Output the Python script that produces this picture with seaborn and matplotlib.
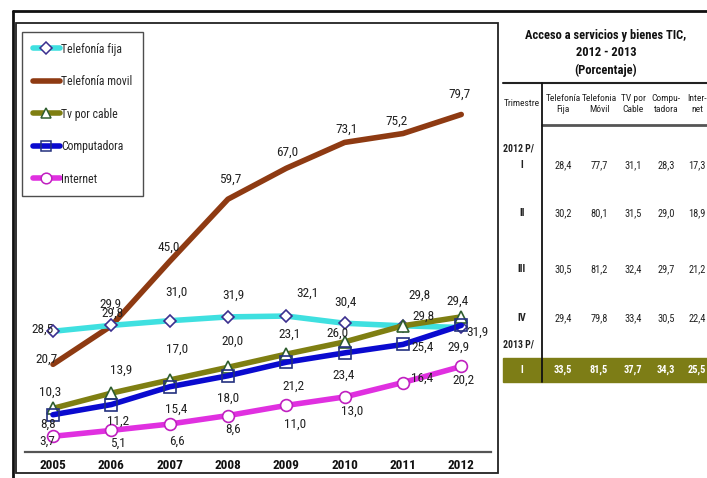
import numpy as np
import pandas as pd
import matplotlib
matplotlib.use("Agg")
import matplotlib.pyplot as plt
import seaborn as sns
from matplotlib import font_manager
from matplotlib.patches import Rectangle
from matplotlib.lines import Line2D

# ---------------- data ----------------
years = ["2005", "2006", "2007", "2008", "2009", "2010", "2011", "2012"]
fija = [28.5, 29.9, 31.0, 31.9, 32.1, 30.4, 29.8, 29.4]
movil = [20.7, 29.8, 45.0, 59.7, 67.0, 73.1, 75.2, 79.7]
tv_cable = [10.3, 13.9, 17.0, 20.0, 23.1, 26.0, 29.8, 31.9]
computadora = [8.8, 11.2, 15.4, 18.0, 21.2, 23.4, 25.4, 29.9]
internet = [3.7, 5.1, 6.6, 8.6, 11.0, 13.0, 16.4, 20.2]
series_names = ["Telefonía fija", "Telefonía movil", "Tv por cable", "Computadora", "Internet"]

table_title = ["Acceso a servicios y bienes TIC,", "2012 - 2013", "(Porcentaje)"]
table_corner = "Trimestre"
table_headers = ["Telefonía\nFija", "Telefonia\nMóvil", "TV por\nCable", "Compu-\ntadora", "Inter-\nnet"]
year_groups = ["2012 P/", "2013 P/"]
trimestres = ["I", "II", "III", "IV", "I"]
table_values = [
    [28.4, 77.7, 31.1, 28.3, 17.3],
    [30.2, 80.1, 31.5, 29.0, 18.9],
    [30.5, 81.2, 32.4, 29.7, 21.2],
    [29.4, 79.8, 33.4, 30.5, 22.4],
    [33.5, 81.5, 37.7, 34.3, 25.5],
]

# ---------------- style ----------------
W, H = 707, 478
sns.set_theme(style="white")

# pick a narrow font if one is installed
fonts = font_manager.fontManager.ttflist
names = {f.name for f in fonts}
stretch = "normal"
if "Liberation Sans Narrow" in names:
    family = "Liberation Sans Narrow"
elif "Roboto Condensed" in names:
    family = "Roboto Condensed"
elif any(f.name == "DejaVu Sans" and str(f.stretch) in ("condensed", "semi-condensed", "75", "87")
         for f in fonts):
    family = "DejaVu Sans"
    stretch = "condensed"
else:
    family = "Liberation Sans"
narrow = family != "Liberation Sans"
plt.rcParams["font.family"] = [family, "DejaVu Sans"]
plt.rcParams["font.stretch"] = stretch
k = 1.0 if narrow else 0.85  # font size factor

def fx(x):
    return x / W

def fy(y):
    return 1 - y / H

fig = plt.figure(figsize=(W / 100, H / 100), dpi=100)
fig.patch.set_facecolor("white")

ax = fig.add_axes([fx(25), fy(452), (491 - 25) / W, (452 - 23) / H])
ax.patch.set_alpha(0)

xpos = np.arange(len(years))
styles = [
    dict(values=movil, color="#8E3A12", marker=None, mfc="none", mec="none", ms=0,
         offs=[(-6, 5), (1, 13), (-1, 14), (2, 20), (1, 16), (2, 13), (-6, 12), (-2, 20)]),
    dict(values=fija, color="#3FE0E0", marker="D", mfc="white", mec="#3B2F8F", ms=6.5,
         offs=[(-10, 2), (-1, 21), (7, 28), (5, 22), (21, 23), (1, 21), (17, 31), (-4, 26)]),
    dict(values=tv_cable, color="#7F7F12", marker="^", mfc="white", mec="#2F5E2F", ms=8.5,
         offs=[(-3, 16), (10, 23), (7, 31), (5, 26), (3, 20), (-7, 9), (21, 10), (16, -15)]),
    dict(values=computadora, color="#0A0ACF", marker="s", mfc="none", mec="#23307F", ms=8,
         offs=[(-5, -10), (7, -17), (7, -22), (0, -22), (7, -24), (-1, -22), (20, -3), (-3, -22)]),
    dict(values=internet, color="#E030E0", marker="o", mfc="white", mec="#C020C0", ms=8.5,
         offs=[(-6, -5), (7, -13), (7, -17), (5, -14), (9, -19), (8, -14), (19, 4), (2, -14)]),
]
name_order = ["Telefonía movil", "Telefonía fija", "Tv por cable", "Computadora", "Internet"]

for name, st in zip(name_order, styles):
    df = pd.DataFrame({"x": xpos, "y": st["values"]})
    kw = dict(color=st["color"], linewidth=4.0, ax=ax, legend=False)
    if st["marker"]:
        kw.update(marker=st["marker"], markersize=st["ms"], markerfacecolor=st["mfc"],
                  markeredgecolor=st["mec"], markeredgewidth=1.2)
    sns.lineplot(data=df, x="x", y="y", **kw)
    for xi, v, (dx, dy) in zip(xpos, st["values"], st["offs"]):
        ax.annotate(f"{v:.1f}".replace(".", ","), (xi, v), xytext=(dx, dy),
                    textcoords="offset pixels", ha="center", va="center",
                    fontsize=9.5 * k, color="#222222", zorder=10)

ax.set_xlim(-0.48, 7.51)
ax.set_ylim(0, 101.3)
ax.set_xticks(xpos)
ax.set_xticklabels(years, fontsize=9.5 * k, fontweight="bold", color="#111111")
ax.set_yticks([])
ax.set_xlabel("")
ax.set_ylabel("")
ax.tick_params(axis="x", length=0, pad=5)
for s in ["top", "left", "right"]:
    ax.spines[s].set_visible(False)
ax.spines["bottom"].set_color("#555555")
ax.spines["bottom"].set_linewidth(1.6)

# legend
legend_styles = {
    "Telefonía fija": styles[1], "Telefonía movil": styles[0], "Tv por cable": styles[2],
    "Computadora": styles[3], "Internet": styles[4],
}
handles = []
for name in series_names:
    st = legend_styles[name]
    handles.append(Line2D([], [], color=st["color"], lw=4.0, marker=st["marker"],
                          markersize=st["ms"] * 0.9, markerfacecolor=st["mfc"],
                          markeredgecolor=st["mec"], markeredgewidth=1.1))
leg = ax.legend(handles, series_names, loc="upper left", bbox_to_anchor=(fx(22), fy(32)),
                bbox_transform=fig.transFigure, frameon=True, fancybox=False,
                edgecolor="#222222", fontsize=8.5 * k, handlelength=2.3, handletextpad=0.1,
                labelspacing=1.65, borderpad=0.9, borderaxespad=0)
leg.get_frame().set_linewidth(1.0)

# frames
fig.add_artist(Rectangle((fx(16), fy(473)), (498 - 16) / W, (473 - 23) / H, fill=False,
                         ec="#222222", lw=1.3, transform=fig.transFigure))
fig.add_artist(Line2D([fx(13), 1], [fy(11), fy(11)], color="#111111", lw=2.0, transform=fig.transFigure))
fig.add_artist(Line2D([fx(13), fx(13)], [fy(11), 0], color="#111111", lw=2.0, transform=fig.transFigure))

# ---------------- table ----------------
for t, yy in zip(table_title, [35, 52, 70]):
    fig.text(fx(606), fy(yy), t, ha="center", va="center", fontsize=9 * k, fontweight="bold", color="#111111")

fig.add_artist(Line2D([fx(503), 1], [fy(83), fy(83)], color="#222222", lw=1.5, transform=fig.transFigure))
fig.add_artist(Line2D([fx(542), 1], [fy(125), fy(125)], color="#555555", lw=2.0, transform=fig.transFigure))

# highlighted last row
fig.add_artist(Rectangle((fx(503), fy(382)), (W - 503) / W, 24 / H, color="#7D7D16",
                         transform=fig.transFigure, zorder=1))
fig.add_artist(Line2D([fx(542), fx(542)], [fy(83), fy(382)], color="#111111", lw=1.3,
                      transform=fig.transFigure, zorder=2))

hs = 6.8 if narrow else 5.8
fig.text(fx(522), fy(104), table_corner, ha="center", va="center", fontsize=hs, color="#222222")
col_x = [563, 599, 633, 666, 697]
for cx, h in zip(col_x, table_headers):
    fig.text(fx(cx), fy(104), h, ha="center", va="center", fontsize=hs, color="#222222",
             linespacing=1.25)

fig.text(fx(503), fy(148), year_groups[0], ha="left", va="center", fontsize=7 * k, fontweight="bold", color="#222222")
fig.text(fx(503), fy(345), year_groups[1], ha="left", va="center", fontsize=7 * k, fontweight="bold", color="#222222")

row_y = [165, 213, 269, 318, 370]
vs = 7.5 * k
for i, (tr, ry, vals) in enumerate(zip(trimestres, row_y, table_values)):
    last = i == len(trimestres) - 1
    c = "white" if last else "#222222"
    fig.text(fx(522), fy(ry), tr, ha="center", va="center", fontsize=vs, fontweight="bold",
             color=c, zorder=5)
    for cx, v in zip(col_x, vals):
        fig.text(fx(cx), fy(ry), f"{v:.1f}".replace(".", ","), ha="center", va="center",
                 fontsize=vs, color=c, fontweight="bold" if last else "normal", zorder=5)

fig.savefig("out.png", dpi=100)
